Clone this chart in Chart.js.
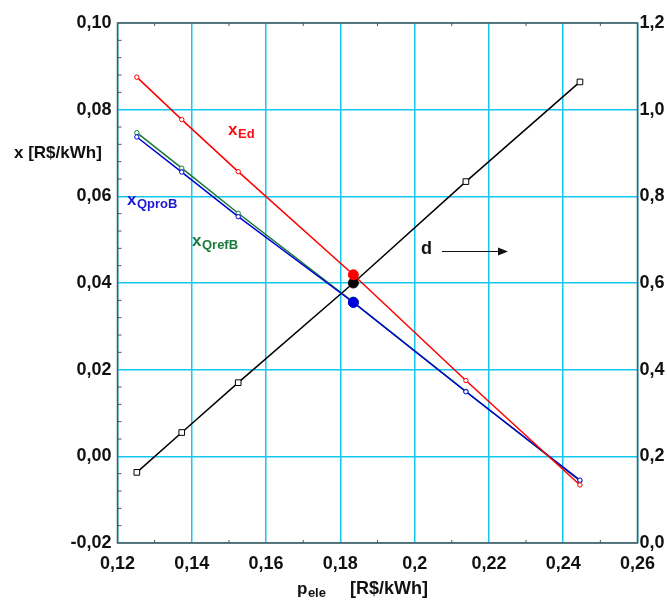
<!DOCTYPE html>
<html lang="pt">
<head>
  <meta charset="UTF-8" />
  <title>x x pele</title>
  <script src="https://cdn.jsdelivr.net/npm/chart.js"></script>
  <style>
    html, body { margin: 0; padding: 0; background: #fff; }
    #wrap { width: 667px; height: 602px; }
  </style>
</head>
<body>
  <div id="wrap"><canvas id="grafico" width="667" height="602"></canvas></div>
  <script>
    // dados
    const pele = [0.1252, 0.1373, 0.1525, 0.1835, 0.2138, 0.2445];
    const xEd = [0.0875, 0.0777, 0.0657, 0.0419, 0.0175, -0.0066];
    const xQrefB = [0.0747, 0.0665, 0.0561, 0.0356, 0.0150, -0.0057];
    const xQproB = [0.0737, 0.0656, 0.0553, 0.0355, 0.0149, -0.0055];
    const d = [0.163, 0.255, 0.370, 0.600, 0.834, 1.064];

    const xTicks = [0.12, 0.14, 0.16, 0.18, 0.2, 0.22, 0.24, 0.26];
    const yTicks = [-0.02, 0, 0.02, 0.04, 0.06, 0.08, 0.10];
    const y2Ticks = [0, 0.2, 0.4, 0.6, 0.8, 1.0, 1.2];

    const FONT = "'Liberation Sans', Arial, sans-serif";
    const GRID = '#12c8ee';
    const AXIS = '#555';
    const MID = 3; // ponto destacado

    const pts = (ys) => pele.map((x, i) => ({ x: x, y: ys[i] }));

    function serie(label, ys, color, axis, style, small, big) {
      return {
        label: label,
        data: pts(ys),
        yAxisID: axis,
        borderColor: color,
        borderWidth: 1.5,
        showLine: true,
        pointStyle: c => c.dataIndex === MID ? 'circle' : style,
        pointRadius: c => c.dataIndex === MID ? big : small,
        pointBorderColor: color,
        pointBackgroundColor: c => c.dataIndex === MID ? color : '#fff',
        pointBorderWidth: 1
      };
    }

    const fmtX = v => String(parseFloat(v.toFixed(2))).replace('.', ',');
    const fmtY = v => v.toFixed(2).replace('.', ',');
    const fmtY2 = v => v.toFixed(1).replace('.', ',');
    const tickFont = { family: FONT, size: 18, weight: 'bold' };

    // ticks menores, moldura e textos
    const extras = {
      id: 'extras',
      beforeDatasetsDraw(chart) {
        const c = chart.ctx, a = chart.chartArea;
        const sx = chart.scales.x, sy = chart.scales.y;
        c.save();
        c.strokeStyle = AXIS;
        c.lineWidth = 1.5;
        c.strokeRect(a.left, a.top, a.right - a.left, a.bottom - a.top);
        c.lineWidth = 1;
        c.beginPath();
        for (let i = 0; i < xTicks.length - 1; i++) {
          const px = sx.getPixelForValue((xTicks[i] + xTicks[i + 1]) / 2);
          c.moveTo(px, a.bottom); c.lineTo(px, a.bottom - 3);
          c.moveTo(px, a.top); c.lineTo(px, a.top + 3);
        }
        for (let i = 0; i < yTicks.length - 1; i++) {
          for (let k = 1; k < 5; k++) {
            const v = yTicks[i] + (yTicks[i + 1] - yTicks[i]) * k / 5;
            const py = sy.getPixelForValue(v);
            c.moveTo(a.left, py); c.lineTo(a.left + 4, py);
          }
        }
        c.stroke();
        c.restore();
      },
      afterDraw(chart) {
        const c = chart.ctx;
        c.save();
        c.textBaseline = 'alphabetic';
        c.textAlign = 'left';

        function sub(x, y, main, small, color) {
          c.fillStyle = color;
          c.font = 'bold 17px ' + FONT;
          c.fillText(main, x, y);
          const w = c.measureText(main).width;
          c.font = 'bold 13px ' + FONT;
          c.fillText(small, x + w + 0.5, y + 3);
        }

        c.fillStyle = '#111';
        c.font = 'bold 17px ' + FONT;
        c.fillText('x [R$/kWh]', 14, 158);

        sub(228, 135, 'x', 'Ed', '#ff1010');
        sub(127, 205, 'x', 'QproB', '#1a1ad6');
        sub(192, 246, 'x', 'QrefB', '#1c7a3c');

        c.fillStyle = '#111';
        c.font = 'bold 18px ' + FONT;
        c.fillText('d', 421, 254);

        // seta do d
        c.strokeStyle = '#111';
        c.lineWidth = 1.2;
        c.beginPath();
        c.moveTo(442, 251.5); c.lineTo(500, 251.5);
        c.stroke();
        c.beginPath();
        c.moveTo(508, 251.5); c.lineTo(498, 247.5); c.lineTo(498, 255.5);
        c.closePath();
        c.fill();

        // titulo do eixo x
        sub(297, 594, 'p', 'ele', '#111');
        c.font = 'bold 18px ' + FONT;
        c.fillText('[R$/kWh]', 350, 594);
        c.restore();
      }
    };

    new Chart(document.getElementById('grafico'), {
      type: 'scatter',
      data: {
        datasets: [
          serie('xEd', xEd, '#ff0000', 'y', 'circle', 2.2, 5),
          serie('xQproB', xQproB, '#0000d8', 'y', 'circle', 2.2, 5),
          serie('xQrefB', xQrefB, '#157a35', 'y', 'circle', 2.2, 5),
          serie('d', d, '#000000', 'y2', 'rect', 4, 5)
        ]
      },
      options: {
        responsive: false,
        animation: false,
        layout: { padding: { top: 23, left: 0, right: 0, bottom: 0 } },
        plugins: { legend: { display: false }, tooltip: { enabled: false } },
        scales: {
          x: {
            type: 'linear',
            position: 'bottom',
            min: 0.12, max: 0.26,
            afterBuildTicks: s => { s.ticks = xTicks.map(v => ({ value: v })); },
            afterFit: s => { s.height = 59; },
            ticks: { callback: fmtX, color: '#111', padding: 10, font: tickFont },
            grid: { color: GRID, lineWidth: 1.5, drawTicks: false },
            border: { display: false }
          },
          y: {
            type: 'linear',
            position: 'left',
            min: -0.02, max: 0.10,
            afterBuildTicks: s => { s.ticks = yTicks.map(v => ({ value: v })); },
            afterFit: s => { s.width = 117.5; },
            ticks: { callback: fmtY, color: '#111', padding: 6, font: tickFont },
            grid: { color: GRID, lineWidth: 1.5, drawTicks: false },
            border: { display: false }
          },
          y2: {
            type: 'linear',
            position: 'right',
            min: 0, max: 1.2,
            afterBuildTicks: s => { s.ticks = y2Ticks.map(v => ({ value: v })); },
            afterFit: s => { s.width = 29.5; },
            ticks: { callback: fmtY2, color: '#111', padding: 2, font: tickFont },
            grid: { display: false, drawTicks: false },
            border: { display: false }
          }
        }
      },
      plugins: [extras]
    });
  </script>
</body>
</html>
